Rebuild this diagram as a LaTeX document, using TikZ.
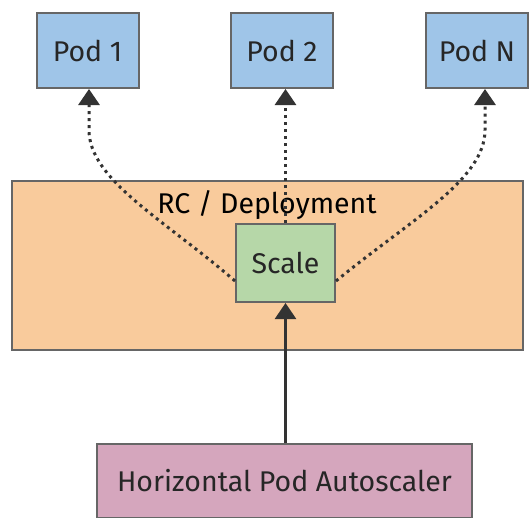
\documentclass[tikz,border=0pt]{standalone}
\usepackage{fontspec}
\setmainfont{Fira Sans}
\usetikzlibrary{arrows.meta}
\definecolor{podblue}{HTML}{9FC5E8}
\definecolor{rcorange}{HTML}{F9CB9C}
\definecolor{scalegreen}{HTML}{B6D7A8}
\definecolor{hpapink}{HTML}{D5A6BD}
\definecolor{edgegray}{HTML}{666666}
\definecolor{linedark}{HTML}{333333}

\begin{document}
\begin{tikzpicture}[
  x=1pt, y=-1pt,
  font=\fontsize{28.5}{34}\selectfont,
  box/.style={draw=edgegray, line width=2pt, text=black!85, inner sep=0pt},
  pod/.style={box, fill=podblue, minimum width=102pt, minimum height=75pt},
  link/.style={linedark, line width=3pt, dash pattern=on 3pt off 4pt,
    -{Triangle[width=21pt,length=16pt]}},
  feed/.style={linedark, line width=2.6pt, -{Triangle[width=21pt,length=16pt]}},
]
\useasboundingbox (0,0) rectangle (529,517);
\node[box, fill=rcorange, minimum width=511pt, minimum height=169pt] (rc) at (267.5,265.5) {};
\node (rclabel) at (267,205) {RC / Deployment};
\node[pod] (pod1) at (87.5,50.5) {Pod 1};
\node[pod] (pod2) at (282,50.5) {Pod 2};
\node[pod] (podn) at (477,50.5) {Pod N};
\node[box, fill=scalegreen, minimum width=99pt, minimum height=78pt] (scale) at (285.5,263) {Scale};
\node[box, fill=hpapink, minimum width=375pt, minimum height=74pt] (hpa) at (284.5,481) {Horizontal Pod Autoscaler};
\draw[link] (scale.north) -- (scale.north |- pod2.south);
\draw[link] ([yshift=-18pt]scale.west) .. controls (165,220) and (89,180) .. (89,130) -- (pod1.south -| 89,0);
\draw[link] ([yshift=-18pt]scale.east) .. controls (410,220) and (485,180) .. (485,130) -- (podn.south -| 485,0);
\draw[feed] (hpa.north -| scale.south) -- (scale.south);
\end{tikzpicture}
\end{document}
